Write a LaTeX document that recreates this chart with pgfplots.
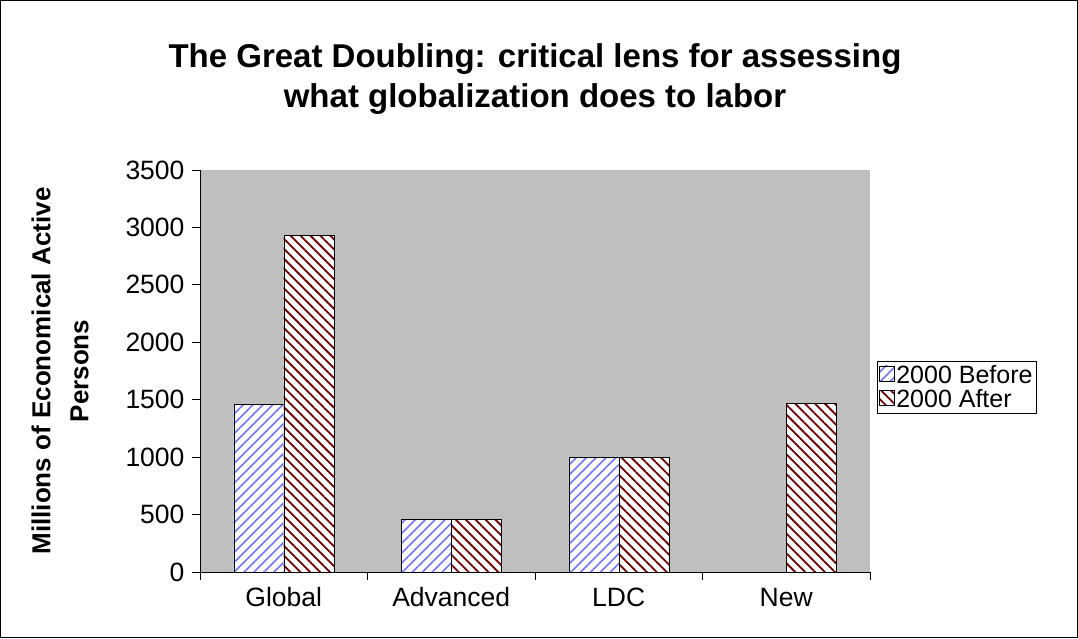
\documentclass[border=0pt]{standalone}
\usepackage{pgfplots}
\pgfplotsset{compat=1.18}
\usetikzlibrary{patterns.meta}
\usepackage{fontspec}
\setmainfont{Liberation Sans}
\tikzset{
  pb/.style={postaction={pattern={Lines[angle=45,distance=7pt,line width=1.6pt]}, pattern color=blue!55}},
  pa/.style={postaction={pattern={Lines[angle=-45,distance=7pt,line width=1.8pt]}, pattern color=red!45!black}},
}
\begin{document}
\begin{tikzpicture}[x=1pt,y=1pt]
\useasboundingbox (-200,-66) rectangle (878,572);
\draw[black,line width=1pt] (-199.5,-65.5) rectangle (877.5,571.5);
\begin{axis}[at={(0,0)},anchor=south west,scale only axis,width=670pt,height=402pt,
  axis background/.style={fill=black!25},
  axis lines*=left, axis line style={line width=0.8pt},
  ybar, bar width=50pt, ymin=0, ymax=3500, ytick={0,500,...,3500},
  xmin=-0.5, xmax=3.5, xtick={0,1,2,3}, xticklabels={Global,Advanced,LDC,New},
  xticklabel style={text depth=6pt, text height=19pt, yshift=-4pt},
  yticklabel style={xshift=-4pt},
  major x tick style={draw=none},
  minor xtick={-0.5,0.5,1.5,2.5,3.5}, minor tick length=8pt,
  tick align=outside, major tick length=8pt,
  tick style={black,line width=0.8pt},
  tick label style={font=\fontsize{26.5}{30}\selectfont},
  /pgf/number format/assume math mode=true,
  /pgf/number format/set thousands separator={},
  ylabel={Millions of Economical Active\\Persons}, ylabel style={font=\fontsize{26}{38}\selectfont\bfseries, align=center, yshift=30pt},
  title={The Great Doubling: critical lens for assessing\\what globalization does to labor},
  title style={font=\fontsize{33}{40}\selectfont\bfseries, align=center, yshift=46pt},
  legend style={at={(1.01,0.46)},anchor=west,draw=black,font=\fontsize{25}{30}\selectfont,
    legend cell align=left, row sep=1pt, inner sep=2pt},
  legend image code/.code={\draw[#1] (0pt,-6pt) rectangle (15pt,9pt);},
]
\addplot[draw=black, fill=white, pb, bar shift=-25pt]
  coordinates {(0,1460) (1,460) (2,1000) (3,0)};
\addplot[draw=black, fill=white, pa, bar shift=25pt]
  coordinates {(0,2930) (1,460) (2,1000) (3,1470)};
\legend{2000 Before,2000 After}
\end{axis}
\end{tikzpicture}
\end{document}
